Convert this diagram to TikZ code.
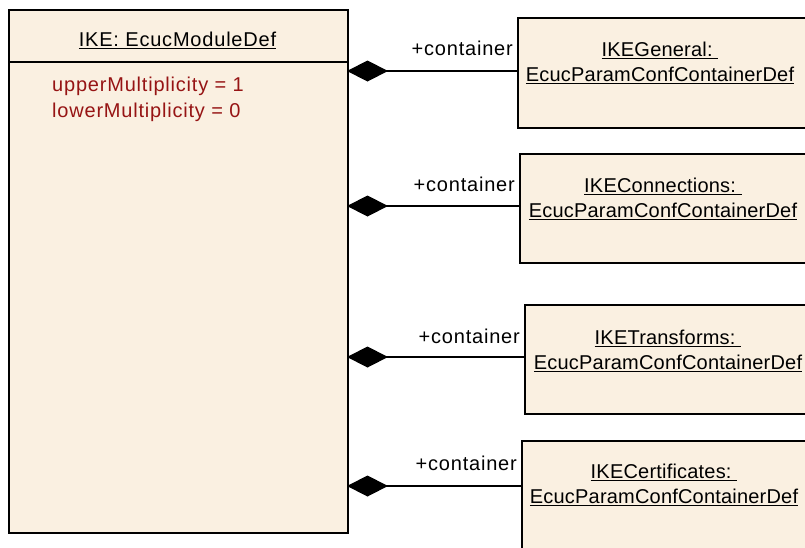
\documentclass[tikz,border=0pt]{standalone}
\usepackage{fontspec}
\setmainfont{Liberation Sans}[LetterSpace=4]
\newfontfamily\boxfont{Liberation Sans}[LetterSpace=1]
\usetikzlibrary{arrows.meta}
\definecolor{boxfill}{RGB}{250,240,225}
\definecolor{attrred}{RGB}{150,20,20}
\newcommand\myul[1]{\setbox0\hbox{#1}\leavevmode\rlap{\rule[-3.4pt]{\wd0}{1.3pt}}\box0}
\tikzset{
  umlbox/.style={draw=black, fill=boxfill, line width=1.6pt, anchor=north west, inner sep=0pt},
  lbl/.style={font=\fontsize{20}{22}\selectfont, inner sep=0pt, anchor=base},
  blbl/.style={font=\boxfont\fontsize{20}{22}\selectfont, inner sep=0pt, anchor=base},
  rolelbl/.style={font=\fontsize{20}{22}\selectfont, inner sep=0pt, anchor=base east},
  attr/.style={font=\fontsize{20}{22}\selectfont, text=attrred, inner sep=0pt, anchor=base west},
  comp/.style={line width=1.5pt, {Diamond[length=41pt,width=21pt]}-}
}
\begin{document}
\begin{tikzpicture}[x=1pt,y=-1pt]
\useasboundingbox (0,0) rectangle (805,547);
\clip (0,0) rectangle (805,547);
\fill[white] (0,0) rectangle (805,547);
% main module box
\node[umlbox, minimum width=339pt, minimum height=523pt] (ike) at (8,9) {};
\draw[line width=1.5pt] (8,62) -- (347,62);
\node[lbl] (ikename) at (177.5,46) {\myul{IKE: EcucModuleDef}};
\node[attr] (up) at (52,91) {upperMultiplicity = 1};
\node[attr] (low) at (52,117) {lowerMultiplicity = 0};
% container boxes
\node[umlbox, minimum width=292pt, minimum height=110pt] (g) at (517,17) {};
\node[blbl] (g1) at (660,56) {\myul{IKEGeneral:\ }};
\node[blbl] (g2) at (660,81) {\myul{EcucParamConfContainerDef}};
\node[umlbox, minimum width=292pt, minimum height=109pt] (c) at (519,153) {};
\node[blbl] (c1) at (663,192) {\myul{IKEConnections:\ }};
\node[blbl] (c2) at (663,217) {\myul{EcucParamConfContainerDef}};
\node[umlbox, minimum width=292pt, minimum height=109pt] (t) at (524,304) {};
\node[blbl] (t1) at (668,344) {\myul{IKETransforms:\ }};
\node[blbl] (t2) at (668,369) {\myul{EcucParamConfContainerDef}};
\node[umlbox, minimum width=292pt, minimum height=120pt] (ce) at (521,440) {};
\node[blbl] (ce1) at (664,478) {\myul{IKECertificates:\ }};
\node[blbl] (ce2) at (664,503) {\myul{EcucParamConfContainerDef}};
% connectors
\coordinate (a1) at (347,71);
\coordinate (a2) at (347,206);
\coordinate (a3) at (347,357);
\coordinate (a4) at (347,486);
\draw[comp] (a1) -- (a1 -| g.west);
\draw[comp] (a2) -- (a2 -| c.west);
\draw[comp] (a3) -- (a3 -| t.west);
\draw[comp] (a4) -- (a4 -| ce.west);
\node[rolelbl] (r1) at (513,55) {+container};
\node[rolelbl] (r2) at (515,191) {+container};
\node[rolelbl] (r3) at (520,343) {+container};
\node[rolelbl] (r4) at (517,470) {+container};
\end{tikzpicture}
\end{document}
